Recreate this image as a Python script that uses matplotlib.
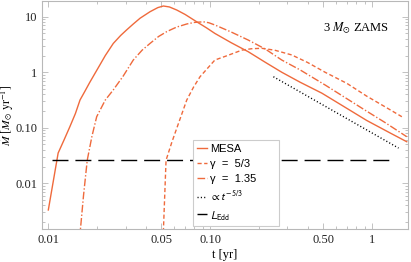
import matplotlib
matplotlib.use("Agg")
import matplotlib.pyplot as plt
from matplotlib.font_manager import FontProperties

# ---- data (t in yr, Mdot in Msun/yr) ----
mesa_t = [0.0100, 0.0115, 0.0125, 0.0136, 0.0147, 0.0157, 0.0168, 0.0180,
          0.0192, 0.0205, 0.0225, 0.0252, 0.0280, 0.0305, 0.0335, 0.0369,
          0.0425, 0.0475, 0.0514, 0.0560, 0.0622, 0.070, 0.0826, 0.095,
          0.107, 0.135, 0.172, 0.22, 0.277, 0.36, 0.49, 0.68, 0.929, 1.30, 1.64]
mesa_m = [0.0033, 0.035, 0.06, 0.105, 0.18, 0.316, 0.45, 0.65,
          0.9, 1.25, 2.0, 3.3, 4.6, 5.8, 7.4, 9.4,
          12.3, 14.6, 15.6, 15.0, 13.2, 11.0, 8.1, 6.3,
          5.0, 3.4, 2.34, 1.5, 1.0, 0.66, 0.42, 0.235, 0.135, 0.08, 0.056]

g53_t = [0.0512, 0.0534, 0.058, 0.0622, 0.0717, 0.079, 0.0866, 0.107,
         0.125, 0.157, 0.18, 0.208, 0.25, 0.319, 0.40, 0.513, 0.7, 0.929,
         1.2, 1.53]
g53_m = [0.001, 0.026, 0.055, 0.098, 0.316, 0.54, 0.83, 1.66,
         1.95, 2.5, 2.65, 2.7, 2.5, 2.05, 1.5, 1.0, 0.63, 0.37,
         0.24, 0.158]

g135_t = [0.0156, 0.0165, 0.0174, 0.0186, 0.0199, 0.0225, 0.0252, 0.029,
          0.0335, 0.0380, 0.0425, 0.048, 0.054, 0.062, 0.0717, 0.080,
          0.0908, 0.098, 0.107, 0.135, 0.172, 0.22, 0.277, 0.36, 0.513,
          0.9, 1.2, 1.64]
g135_m = [0.001, 0.006, 0.026, 0.07, 0.158, 0.316, 0.48, 0.85,
          1.66, 2.5, 3.3, 4.4, 5.4, 6.5, 7.4, 7.9,
          8.1, 7.8, 7.1, 5.3, 3.8, 2.6, 1.66, 1.1, 0.59,
          0.21, 0.125, 0.069]

# t^-5/3 guide (end points)
pl_t = [0.246, 1.46]
pl_m = [0.83, 0.043]

# Eddington limit
edd_t = [0.0105, 1.33]
edd_m = [0.026, 0.026]

xticks = [0.01, 0.05, 0.10, 0.50, 1]
xlabels = ["0.01", "0.05", "0.10", "0.50", "1"]
yticks = [0.01, 0.1, 1, 10]
ylabels = ["0.01", "0.10", "1", "10"]

orange = "#ef6a3c"
frame = "#b8b8b8"

plt.rcParams["lines.scale_dashes"] = False
plt.rcParams["mathtext.fontset"] = "stix"
plt.rcParams["font.family"] = "Liberation Serif"

fig = plt.figure(figsize=(4.11, 2.62), dpi=100)
ax = fig.add_axes([42 / 411, 1 - 229.3 / 262, 366 / 411, 228.3 / 262])

ax.plot(mesa_t, mesa_m, color=orange, lw=1.0, label="MESA")
ax.plot(g53_t, g53_m, color=orange, lw=1.0, dashes=[3, 1.8],
        label="γ  =  5/3")
ax.plot(g135_t, g135_m, color=orange, lw=1.0, dashes=[5.5, 1.5, 1, 1.5],
        label="γ  =  1.35" + "\u00a0" * 6)
ax.plot(pl_t, pl_m, color="black", lw=1.0, dashes=[0.8, 1.6],
        label=r"$\propto t^{-5/3}$")
ax.plot(edd_t, edd_m, color="black", lw=1.0, dashes=[11.5, 5],
        label=r"$L_{\rm Edd}$")

ax.set_xscale("log")
ax.set_yscale("log")
ax.set_xlim(0.00914, 1.67)
ax.set_ylim(0.00148, 19.2)

ax.set_xticks(xticks, xlabels)
ax.set_yticks(yticks, ylabels)
ax.minorticks_on()
ax.xaxis.set_minor_formatter(matplotlib.ticker.NullFormatter())
ax.yaxis.set_minor_formatter(matplotlib.ticker.NullFormatter())
ax.tick_params(which="both", direction="in", top=True, right=True,
               color=frame, width=0.6, labelsize=9, labelcolor="#222222")
ax.tick_params(which="major", length=4)
ax.tick_params(which="minor", length=2)
for s in ax.spines.values():
    s.set_color(frame)
    s.set_linewidth(0.8)

ax.set_xlabel("t [yr]", fontsize=9, labelpad=2)
ax.set_ylabel(r"$\dot{M}\ [M_{\odot}\ \mathrm{yr}^{-1}]$", fontsize=8.5)
ax.yaxis.set_label_coords(-0.07, 0.5)

ax.text(0.858, 0.882, r"3 $M_{\odot}$ ZAMS", transform=ax.transAxes,
        ha="center", va="center", fontsize=9)

prop = FontProperties(family="Liberation Sans", size=8, math_fontfamily="stixsans")
leg = fig.legend(loc="upper left", bbox_to_anchor=(193 / 411, 1 - 140 / 262),
                 prop=prop, frameon=True, fancybox=False, framealpha=1,
                 edgecolor="#cccccc", handlelength=0.9, handletextpad=0.25,
                 labelspacing=0.45, borderpad=0.35, borderaxespad=0)
leg.get_frame().set_linewidth(0.8)

fig.savefig("out.png", dpi=100)
